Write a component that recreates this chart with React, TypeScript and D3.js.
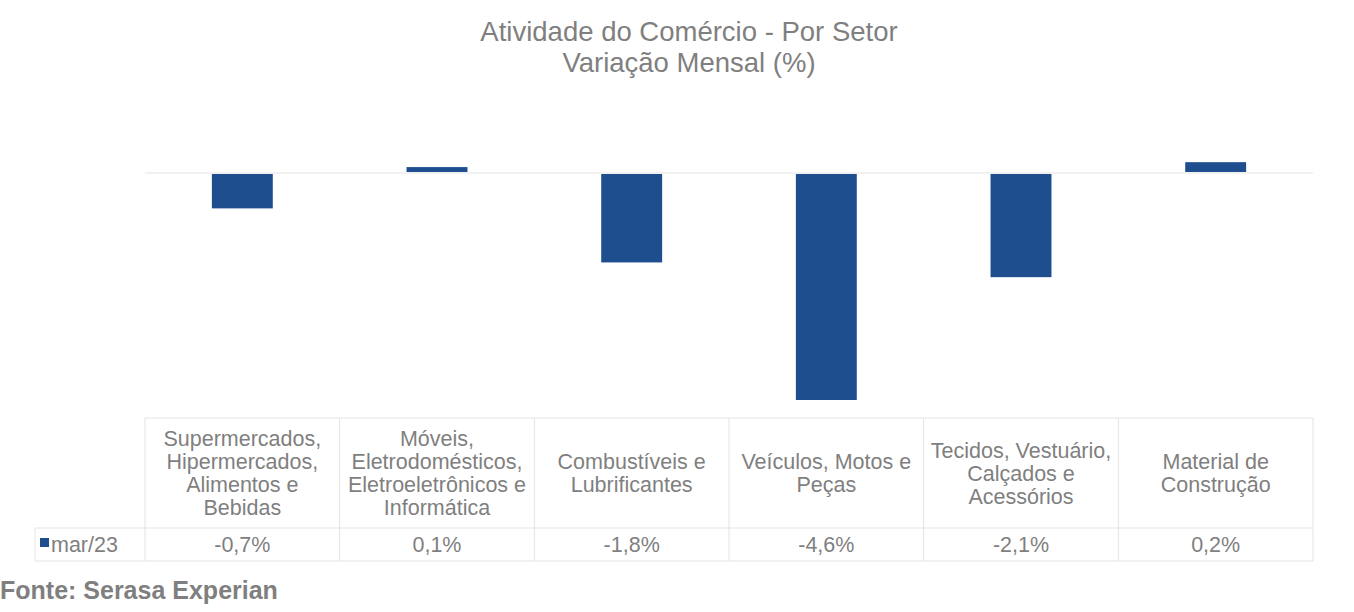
import * as d3 from 'd3';

const categories = [
  ['Supermercados,', 'Hipermercados,', 'Alimentos e', 'Bebidas'],
  ['Móveis,', 'Eletrodomésticos,', 'Eletroeletrônicos e', 'Informática'],
  ['Combustíveis e', 'Lubrificantes'],
  ['Veículos, Motos e', 'Peças'],
  ['Tecidos, Vestuário,', 'Calçados e', 'Acessórios'],
  ['Material de', 'Construção'],
];
const values = [-0.7, 0.1, -1.8, -4.6, -2.1, 0.2];
const valueLabels = ['-0,7%', '0,1%', '-1,8%', '-4,6%', '-2,1%', '0,2%'];
const seriesName = 'mar/23';

const W = 1354;
const H = 612;
const gray = '#7f7f7f';
const barColor = '#1f4e8f';
const gridColor = '#e3e3e3';
const font = '"Liberation Sans", Arial, sans-serif';

const App = () => {
  const left = 145;
  const right = 1313;
  const zeroY = 173;

  const x = d3.scaleBand<number>()
    .domain(d3.range(categories.length))
    .range([left, right])
    .paddingInner(0.687)
    .paddingOuter(0.3435);

  const y = d3.scaleLinear()
    .domain([-4.6, 0])
    .range([399, zeroY]);

  const step = x.step();
  const colX = (i: number) => left + i * step;

  const tableTop = 418;
  const headerBottom = 528;
  const tableBottom = 561;
  const legendLeft = 35;
  const lineH = 23;
  const fs = 21.5;

  return (
    <svg width={W} height={H} style={{ position: 'absolute', left: 0, top: 0 }} fontFamily={font}>
      <rect width={W} height={H} fill="#fff" />
      <text x={689} y={41} textAnchor="middle" fontSize={27.5} fill={gray}>
        Atividade do Comércio - Por Setor
      </text>
      <text x={689} y={72} textAnchor="middle" fontSize={27.5} fill={gray}>
        Variação Mensal (%)
      </text>

      {/* zero line */}
      <line x1={left} x2={right} y1={y(0)} y2={y(0)} stroke={gridColor} strokeWidth={1} />

      {values.map((v, i) => (
        <rect
          key={i}
          x={x(i)}
          width={x.bandwidth()}
          y={v >= 0 ? y(v) - 1 : y(0) + 1}
          height={Math.abs(y(v) - y(0))}
          fill={barColor}
        />
      ))}

      {/* data table */}
      <g stroke={gridColor} strokeWidth={1} fill="none">
        <line x1={left} x2={right} y1={tableTop} y2={tableTop} />
        <line x1={legendLeft} x2={right} y1={headerBottom} y2={headerBottom} />
        <line x1={legendLeft} x2={right} y1={tableBottom} y2={tableBottom} />
        <line x1={legendLeft} x2={legendLeft} y1={headerBottom} y2={tableBottom} />
        {d3.range(categories.length + 1).map((i) => (
          <line key={i} x1={colX(i)} x2={colX(i)} y1={tableTop} y2={tableBottom} />
        ))}
      </g>

      {categories.map((lines, i) => {
        const cx = colX(i) + step / 2;
        const cy = (tableTop + headerBottom) / 2;
        const startY = cy - ((lines.length - 1) * lineH) / 2;
        return (
          <text key={i} textAnchor="middle" fontSize={fs} fill={gray}>
            {lines.map((l, j) => (
              <tspan key={j} x={cx} y={startY + j * lineH} dy="0.35em">{l}</tspan>
            ))}
          </text>
        );
      })}

      {valueLabels.map((l, i) => (
        <text
          key={i}
          x={colX(i) + step / 2}
          y={(headerBottom + tableBottom) / 2}
          dy="0.35em"
          textAnchor="middle"
          fontSize={fs}
          fill={gray}
        >
          {l}
        </text>
      ))}

      <rect x={40} y={538} width={9} height={9} fill={barColor} />
      <text x={51} y={(headerBottom + tableBottom) / 2} dy="0.35em" fontSize={fs} fill={gray}>
        {seriesName}
      </text>

      <text x={0} y={599} fontSize={25} fontWeight="bold" fill={gray}>
        Fonte: Serasa Experian
      </text>
    </svg>
  );
};

export default App;
